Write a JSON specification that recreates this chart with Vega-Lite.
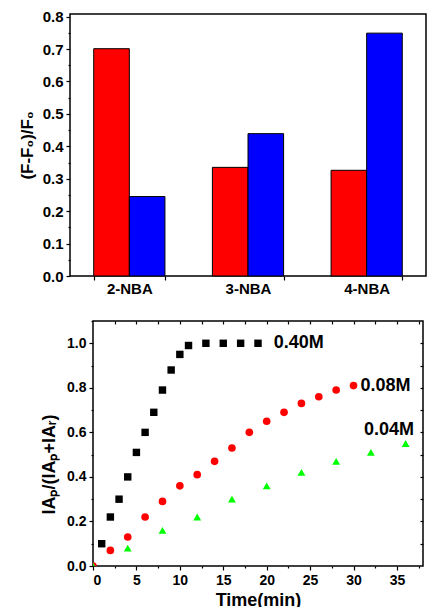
{
  "$schema": "https://vega.github.io/schema/vega-lite/v6.json",
  "padding": {"left": 0, "top": 8, "right": 0, "bottom": 0},
  "spacing": 22,
  "resolve": {"scale": {"color": "independent", "shape": "independent", "size": "independent"}},
  "config": {
    "font": "Liberation Sans",
    "view": {"stroke": "black", "strokeWidth": 1.5},
    "axis": {
      "labelFont": "Liberation Sans",
      "titleFont": "Liberation Sans",
      "labelFontWeight": "bold",
      "titleFontWeight": "bold",
      "labelColor": "black",
      "titleColor": "black",
      "tickColor": "black",
      "tickWidth": 1.2,
      "grid": false,
      "domain": false
    }
  },
  "vconcat": [
    {
      "spacing": 16,
      "hconcat": [
        {
          "width": 1,
          "height": 1,
          "view": {"stroke": null},
          "data": {"values": []},
          "mark": {"type": "point", "opacity": 0}
        },
        {
          "width": 356,
          "height": 262,
          "data": {
            "values": [
              {"cat": "2-NBA", "grp": "a", "v": 0.701},
              {"cat": "2-NBA", "grp": "b", "v": 0.245},
              {"cat": "3-NBA", "grp": "a", "v": 0.335},
              {"cat": "3-NBA", "grp": "b", "v": 0.439},
              {"cat": "4-NBA", "grp": "a", "v": 0.326},
              {"cat": "4-NBA", "grp": "b", "v": 0.749}
            ]
          },
          "mark": {"type": "bar", "stroke": "black", "strokeWidth": 1},
          "encoding": {
            "x": {
              "field": "cat", "type": "nominal",
              "scale": {"paddingInner": 0.4, "paddingOuter": 0.2},
              "axis": {"title": null, "labelAngle": 0, "tickBand": "extent", "tickSize": 4, "labelPadding": 1, "labelFontSize": 15}
            },
            "xOffset": {"field": "grp", "type": "nominal", "scale": {"paddingInner": 0, "paddingOuter": 0}},
            "y": {
              "field": "v", "type": "quantitative",
              "scale": {"domain": [0, 0.808], "nice": false},
              "axis": {
                "title": "(F-F₀)/F₀",
                "values": [0, 0.05, 0.1, 0.15, 0.2, 0.25, 0.3, 0.35, 0.4, 0.45, 0.5, 0.55, 0.6, 0.65, 0.7, 0.75, 0.8],
                "labelExpr": "round(datum.value*100) % 10 === 0 ? format(datum.value, '.1f') : ''",
                "tickSize": {"condition": {"test": "round(datum.value*100) % 10 === 0", "value": 4}, "value": 2},
                "labelFontSize": 15,
                "labelPadding": 3,
                "titleFontSize": 17,
                "titlePadding": 6
              }
            },
            "color": {"field": "grp", "type": "nominal", "scale": {"domain": ["a", "b"], "range": ["#ff0000", "#0000ff"]}, "legend": null}
          }
        }
      ]
    },
    {
      "spacing": 38,
      "hconcat": [
        {
          "width": 1,
          "height": 1,
          "view": {"stroke": null},
          "data": {"values": []},
          "mark": {"type": "point", "opacity": 0}
        },
        {
          "width": 330,
          "height": 245,
          "resolve": {"axis": {"x": "independent", "y": "independent"}},
          "layer": [
            {
              "data": {
                "values": [
                  {"t": 1, "r": 0.10, "s": "0.40M"},
                  {"t": 2, "r": 0.22, "s": "0.40M"},
                  {"t": 3, "r": 0.30, "s": "0.40M"},
                  {"t": 4, "r": 0.40, "s": "0.40M"},
                  {"t": 5, "r": 0.51, "s": "0.40M"},
                  {"t": 6, "r": 0.60, "s": "0.40M"},
                  {"t": 7, "r": 0.69, "s": "0.40M"},
                  {"t": 8, "r": 0.79, "s": "0.40M"},
                  {"t": 9, "r": 0.88, "s": "0.40M"},
                  {"t": 10, "r": 0.95, "s": "0.40M"},
                  {"t": 11, "r": 0.99, "s": "0.40M"},
                  {"t": 13, "r": 1.0, "s": "0.40M"},
                  {"t": 15, "r": 1.0, "s": "0.40M"},
                  {"t": 17, "r": 1.0, "s": "0.40M"},
                  {"t": 19, "r": 1.0, "s": "0.40M"},
                  {"t": 0, "r": 0.0, "s": "0.08M"},
                  {"t": 2, "r": 0.07, "s": "0.08M"},
                  {"t": 4, "r": 0.13, "s": "0.08M"},
                  {"t": 6, "r": 0.22, "s": "0.08M"},
                  {"t": 8, "r": 0.29, "s": "0.08M"},
                  {"t": 10, "r": 0.36, "s": "0.08M"},
                  {"t": 12, "r": 0.41, "s": "0.08M"},
                  {"t": 14, "r": 0.47, "s": "0.08M"},
                  {"t": 16, "r": 0.53, "s": "0.08M"},
                  {"t": 18, "r": 0.60, "s": "0.08M"},
                  {"t": 20, "r": 0.65, "s": "0.08M"},
                  {"t": 22, "r": 0.69, "s": "0.08M"},
                  {"t": 24, "r": 0.73, "s": "0.08M"},
                  {"t": 26, "r": 0.76, "s": "0.08M"},
                  {"t": 28, "r": 0.79, "s": "0.08M"},
                  {"t": 30, "r": 0.81, "s": "0.08M"},
                  {"t": 0, "r": 0.0, "s": "0.04M"},
                  {"t": 4, "r": 0.08, "s": "0.04M"},
                  {"t": 8, "r": 0.16, "s": "0.04M"},
                  {"t": 12, "r": 0.22, "s": "0.04M"},
                  {"t": 16, "r": 0.30, "s": "0.04M"},
                  {"t": 20, "r": 0.36, "s": "0.04M"},
                  {"t": 24, "r": 0.42, "s": "0.04M"},
                  {"t": 28, "r": 0.47, "s": "0.04M"},
                  {"t": 32, "r": 0.51, "s": "0.04M"},
                  {"t": 36, "r": 0.55, "s": "0.04M"}
                ]
              },
              "mark": {"type": "point", "filled": true, "opacity": 1, "clip": true},
              "encoding": {
                "x": {
                  "field": "t", "type": "quantitative",
                  "scale": {"domain": [0, 38], "nice": false},
                  "axis": {
                    "orient": "bottom",
                    "title": "Time(min)",
                    "values": [0, 2.5, 5, 7.5, 10, 12.5, 15, 17.5, 20, 22.5, 25, 27.5, 30, 32.5, 35, 37.5],
                    "labelExpr": "datum.value % 5 === 0 ? format(datum.value, 'd') : ''",
                    "tickSize": {"condition": {"test": "datum.value % 5 === 0", "value": 4}, "value": 2},
                    "labelFontSize": 14,
                    "labelPadding": 3,
                    "titleFontSize": 18,
                    "titlePadding": 4
                  }
                },
                "y": {
                  "field": "r", "type": "quantitative",
                  "scale": {"domain": [0, 1.1], "nice": false},
                  "axis": {
                    "orient": "left",
                    "title": "IAₚ/(IAₚ+IAᵣ)",
                    "values": [0, 0.1, 0.2, 0.3, 0.4, 0.5, 0.6, 0.7, 0.8, 0.9, 1.0, 1.1],
                    "labelExpr": "round(datum.value*10) % 2 === 0 ? format(datum.value, '.1f') : ''",
                    "tickSize": {"condition": {"test": "round(datum.value*10) % 2 === 0", "value": 4}, "value": 2},
                    "labelFontSize": 14,
                    "labelPadding": 3,
                    "titleFontSize": 18,
                    "titlePadding": 8,
                    "titleY": 143
                  }
                },
                "shape": {"field": "s", "type": "nominal", "scale": {"domain": ["0.40M", "0.08M", "0.04M"], "range": ["square", "circle", "triangle-up"]}, "legend": null},
                "color": {"field": "s", "type": "nominal", "scale": {"domain": ["0.40M", "0.08M", "0.04M"], "range": ["#000000", "#ff0000", "#00ff00"]}, "legend": null},
                "size": {"field": "s", "type": "nominal", "scale": {"domain": ["0.40M", "0.08M", "0.04M"], "range": [55, 62, 120]}, "legend": null}
              }
            },
            {
              "data": {
                "values": [
                  {"t": 20.8, "r": 1.0, "label": "0.40M"},
                  {"t": 30.8, "r": 0.81, "label": "0.08M"},
                  {"t": 31.2, "r": 0.61, "label": "0.04M"}
                ]
              },
              "mark": {"type": "text", "align": "left", "baseline": "middle", "fontSize": 18, "fontWeight": "bold", "font": "Liberation Sans", "color": "black"},
              "encoding": {
                "x": {
                  "field": "t", "type": "quantitative",
                  "axis": {"orient": "top", "title": null, "labels": false, "values": [2.5, 5, 7.5, 10, 12.5, 15, 17.5, 20, 22.5, 25, 27.5, 30, 32.5, 35, 37.5], "tickSize": -3}
                },
                "y": {
                  "field": "r", "type": "quantitative",
                  "axis": {"orient": "right", "title": null, "labels": false, "values": [0.1, 0.2, 0.3, 0.4, 0.5, 0.6, 0.7, 0.8, 0.9, 1.0], "tickSize": -3}
                },
                "text": {"field": "label", "type": "nominal"}
              }
            }
          ]
        }
      ]
    }
  ]
}
